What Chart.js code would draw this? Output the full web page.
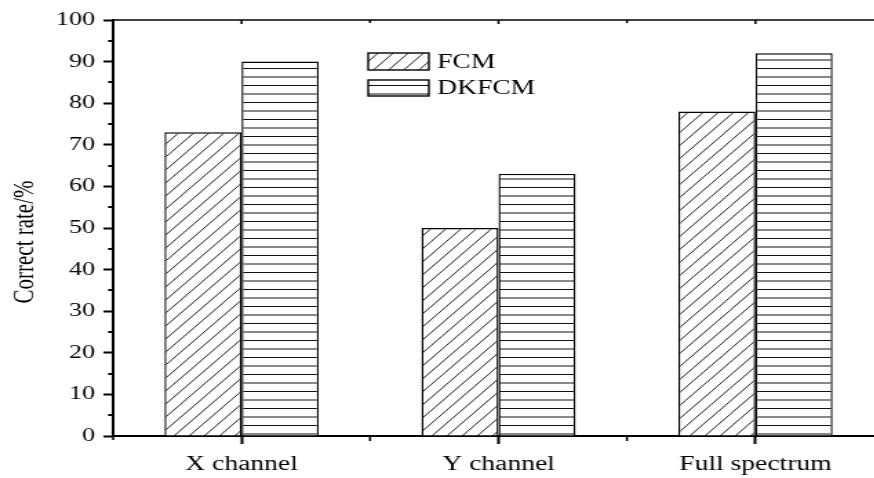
<!DOCTYPE html>
<html>
<head>
<meta charset="utf-8">
<script src="https://cdn.jsdelivr.net/npm/chart.js@4.4.0/dist/chart.umd.min.js"></script>
<style>
  html, body { margin: 0; padding: 0; overflow: hidden; background: #fff; }
  /* the original figure is stretched sideways, so the canvas is too */
  #myChart { transform: scaleX(1.379); transform-origin: 0 0; }
</style>
</head>
<body>
<canvas id="myChart" width="641" height="478"></canvas>
<script>
const categories = ['X channel', 'Y channel', 'Full spectrum'];
const seriesNames = ['FCM', 'DKFCM'];
const fcmValues = [73, 50, 78];
const dkfcmValues = [90, 63, 92];
const yMin = 0, yMax = 100, yStep = 10;

const FONT = '"Liberation Serif", "Times New Roman", serif';

// diagonal hatch "/" for FCM
function diagPattern() {
  const w = 11, h = 13;
  const c = document.createElement('canvas');
  c.width = w; c.height = h;
  const g = c.getContext('2d');
  g.fillStyle = '#fff';
  g.fillRect(0, 0, w, h);
  g.strokeStyle = '#111';
  g.lineWidth = 0.9;
  g.beginPath();
  g.moveTo(-w, 2 * h); g.lineTo(2 * w, -h);
  g.moveTo(-w, h); g.lineTo(w, -h);
  g.moveTo(0, 2 * h); g.lineTo(2 * w, 0);
  g.stroke();
  return g.createPattern(c, 'repeat');
}

// horizontal lines for DKFCM
function horizPattern() {
  const c = document.createElement('canvas');
  c.width = 8; c.height = 17;
  const g = c.getContext('2d');
  g.fillStyle = '#fff';
  g.fillRect(0, 0, 8, 17);
  g.strokeStyle = '#111';
  g.lineWidth = 1;
  g.beginPath();
  g.moveTo(0, 0.5); g.lineTo(8, 0.5);
  g.moveTo(0, 9); g.lineTo(8, 9);
  g.stroke();
  return g.createPattern(c, 'repeat');
}

// extra axis bits: top line, minor ticks, y title, legend
const extras = {
  id: 'extras',
  afterDraw(chart) {
    const ctx = chart.ctx;
    const area = chart.chartArea;
    const x = chart.scales.x, y = chart.scales.y;
    ctx.save();
    ctx.strokeStyle = '#000';

    // top frame line
    ctx.lineWidth = 1.5;
    ctx.beginPath();
    ctx.moveTo(area.left, area.top);
    ctx.lineTo(chart.width, area.top);
    ctx.stroke();

    // y minor ticks
    ctx.lineWidth = 2;
    ctx.beginPath();
    for (let v = yMin + yStep / 2; v < yMax; v += yStep) {
      const py = Math.round(y.getPixelForValue(v));
      ctx.moveTo(area.left - 3.6, py);
      ctx.lineTo(area.left, py);
    }
    ctx.stroke();

    // x minor ticks between categories + short ticks on the top line
    ctx.lineWidth = 1.5;
    ctx.beginPath();
    const half = (x.getPixelForValue(1) - x.getPixelForValue(0)) / 2;
    ctx.moveTo(area.left, area.bottom);
    ctx.lineTo(area.left, area.bottom + 4);
    for (let i = 0; i < categories.length; i++) {
      const c = x.getPixelForValue(i);
      ctx.moveTo(c + half, area.bottom);
      ctx.lineTo(c + half, area.bottom + 5);
      ctx.moveTo(c, area.top);
      ctx.lineTo(c, area.top + 4);
      ctx.moveTo(c + half, area.top);
      ctx.lineTo(c + half, area.top + 3);
    }
    ctx.stroke();

    // y title
    ctx.fillStyle = '#000';
    ctx.font = '21px ' + FONT;
    ctx.textAlign = 'center';
    ctx.textBaseline = 'alphabetic';
    ctx.translate(24, 242);
    ctx.rotate(-Math.PI / 2);
    ctx.fillText('Correct rate/%', 0, 0);
    ctx.restore();

    // legend
    ctx.save();
    const boxes = [[267, 53, 44, 17], [267, 80, 44, 16]];
    chart.data.datasets.forEach((ds, i) => {
      const [bx, by, bw, bh] = boxes[i];
      ctx.fillStyle = ds.backgroundColor;
      ctx.fillRect(bx, by, bw, bh);
      ctx.strokeStyle = '#000';
      ctx.lineWidth = 1.4;
      ctx.strokeRect(bx, by, bw, bh);
      ctx.fillStyle = '#000';
      ctx.font = '20px ' + FONT;
      ctx.textAlign = 'left';
      ctx.textBaseline = 'middle';
      ctx.fillText(ds.label, 317, by + bh / 2 + 1);
    });
    ctx.restore();
  }
};

const ctx = document.getElementById('myChart').getContext('2d');
const chart = new Chart(ctx, {
  type: 'bar',
  data: {
    labels: categories,
    datasets: [{
      label: seriesNames[0],
      data: fcmValues,
      backgroundColor: diagPattern(),
      borderColor: '#000',
      borderWidth: 1.4
    }, {
      label: seriesNames[1],
      data: dkfcmValues,
      backgroundColor: horizPattern(),
      borderColor: '#000',
      borderWidth: 1.4
    }]
  },
  options: {
    responsive: false,
    animation: false,
    devicePixelRatio: 1,
    layout: { padding: { top: 20, left: 0, right: 0, bottom: 0 } },
    datasets: { bar: { categoryPercentage: 0.6, barPercentage: 1 } },
    plugins: { legend: { display: false }, tooltip: { enabled: false } },
    scales: {
      x: {
        grid: { drawOnChartArea: false, offset: false, tickLength: 8, tickWidth: 2, tickColor: '#000' },
        border: { display: true, color: '#000', width: 2 },
        ticks: { color: '#000', font: { family: FONT, size: 20 }, padding: 9 },
        afterFit(scale) { scale.height = 42; }
      },
      y: {
        min: yMin,
        max: yMax,
        grid: { drawOnChartArea: false, tickLength: 7, tickWidth: 2, tickColor: '#000' },
        border: { display: true, color: '#000', width: 2 },
        ticks: { stepSize: yStep, color: '#000', font: { family: FONT, size: 19 }, padding: 6 },
        afterFit(scale) { scale.width = 82; }
      }
    }
  },
  plugins: [extras]
});
</script>
</body>
</html>
